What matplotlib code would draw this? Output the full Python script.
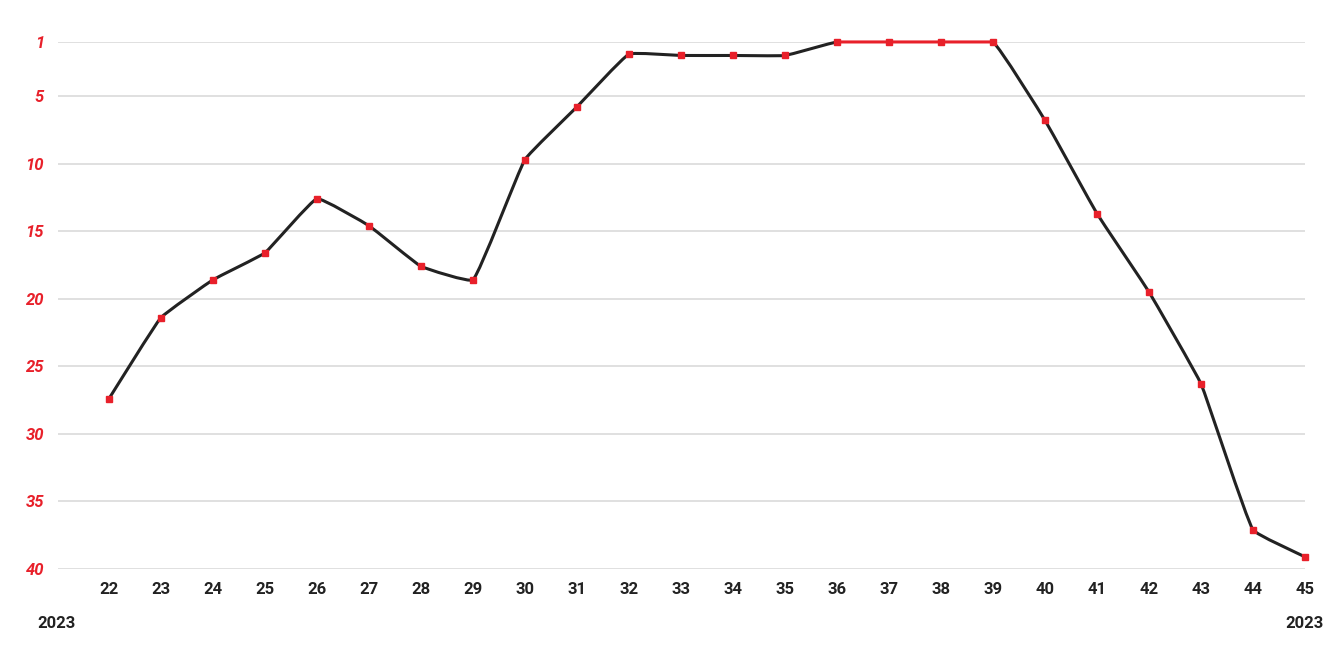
import numpy as np
import matplotlib.pyplot as plt
from matplotlib.path import Path
from matplotlib.patches import PathPatch

# week numbers and chart positions
weeks = [22, 23, 24, 25, 26, 27, 28, 29, 30, 31, 32, 33, 34, 35,
         36, 37, 38, 39, 40, 41, 42, 43, 44, 45]
ranks = [27.4, 21.4, 18.6, 16.6, 12.6, 14.6, 17.6, 18.6, 9.7, 5.8, 1.9, 2.0,
         2.0, 2.0, 1.0, 1.0, 1.0, 1.0, 6.8, 13.7, 19.5, 26.3, 37.1, 39.1]
y_ticks = [1, 5, 10, 15, 20, 25, 30, 35, 40]
year_label = "2023"

RED = "#e8202a"
DARK = "#222222"
TENSION = 0.1
# rough pixel size of one unit on each axis, so the smoothing looks even
SX, SY = 52.0, 13.5


def control_points(x, y, t):
    # chart.js style spline control points, worked out in pixel-like units
    px = np.asarray(x, float) * SX
    py = np.asarray(y, float) * SY
    n = len(px)
    before = np.zeros((n, 2))
    after = np.zeros((n, 2))
    for i in range(n):
        p0 = i - 1 if i > 0 else i
        p2 = i + 1 if i < n - 1 else i
        d01 = np.hypot(px[i] - px[p0], py[i] - py[p0])
        d12 = np.hypot(px[p2] - px[i], py[p2] - py[i])
        tot = d01 + d12 if d01 + d12 > 0 else 1
        fa = t * d01 / tot
        fb = t * d12 / tot
        vx = px[p2] - px[p0]
        vy = py[p2] - py[p0]
        before[i] = (px[i] - fa * vx, py[i] - fa * vy)
        after[i] = (px[i] + fb * vx, py[i] + fb * vy)
    before[:, 0] /= SX
    after[:, 0] /= SX
    before[:, 1] = np.clip(before[:, 1] / SY, 1, 40)
    after[:, 1] = np.clip(after[:, 1] / SY, 1, 40)
    return before, after


fig = plt.figure(figsize=(13.33, 6.66), dpi=100)
ax = fig.add_axes([0.0435, 0.1456, 0.9355, 0.7914])

before, after = control_points(weeks, ranks, TENSION)
for i in range(len(weeks) - 1):
    verts = [(weeks[i], ranks[i]), tuple(after[i]), tuple(before[i + 1]),
             (weeks[i + 1], ranks[i + 1])]
    codes = [Path.MOVETO, Path.CURVE4, Path.CURVE4, Path.CURVE4]
    col = RED if (ranks[i] == 1 and ranks[i + 1] == 1) else DARK
    ax.add_patch(PathPatch(Path(verts, codes), fill=False, edgecolor=col,
                           lw=2.2, clip_on=False, zorder=3, capstyle="round"))

ax.plot(weeks, ranks, ls="none", marker="s", ms=5, color=RED, clip_on=False, zorder=4)

ax.set_xlim(21.02, 45)
ax.set_ylim(40, 1)
ax.set_yticks(y_ticks)
ax.set_xticks(weeks)
ax.grid(axis="y", color="#dddddd", lw=1.3)
ax.set_axisbelow(True)
for s in ax.spines.values():
    s.set_visible(False)
ax.tick_params(length=0)
ax.tick_params(axis="x", pad=9)
ax.tick_params(axis="y", pad=10)

for lab in ax.get_xticklabels():
    lab.set_fontfamily("Roboto")
    lab.set_fontweight("bold")
    lab.set_fontsize(12)
    lab.set_color(DARK)
for lab in ax.get_yticklabels():
    lab.set_fontfamily("Roboto")
    lab.set_fontweight("bold")
    lab.set_fontstyle("italic")
    lab.set_fontsize(12)
    lab.set_color(RED)

fig.text(57 / 1333, 1 - 624 / 666, year_label, ha="center", va="center",
         fontfamily="Roboto", fontweight="bold", fontsize=12, color=DARK)
fig.text(1304 / 1333, 1 - 624 / 666, year_label, ha="center", va="center",
         fontfamily="Roboto", fontweight="bold", fontsize=12, color=DARK)

fig.savefig("out.png", dpi=100)
